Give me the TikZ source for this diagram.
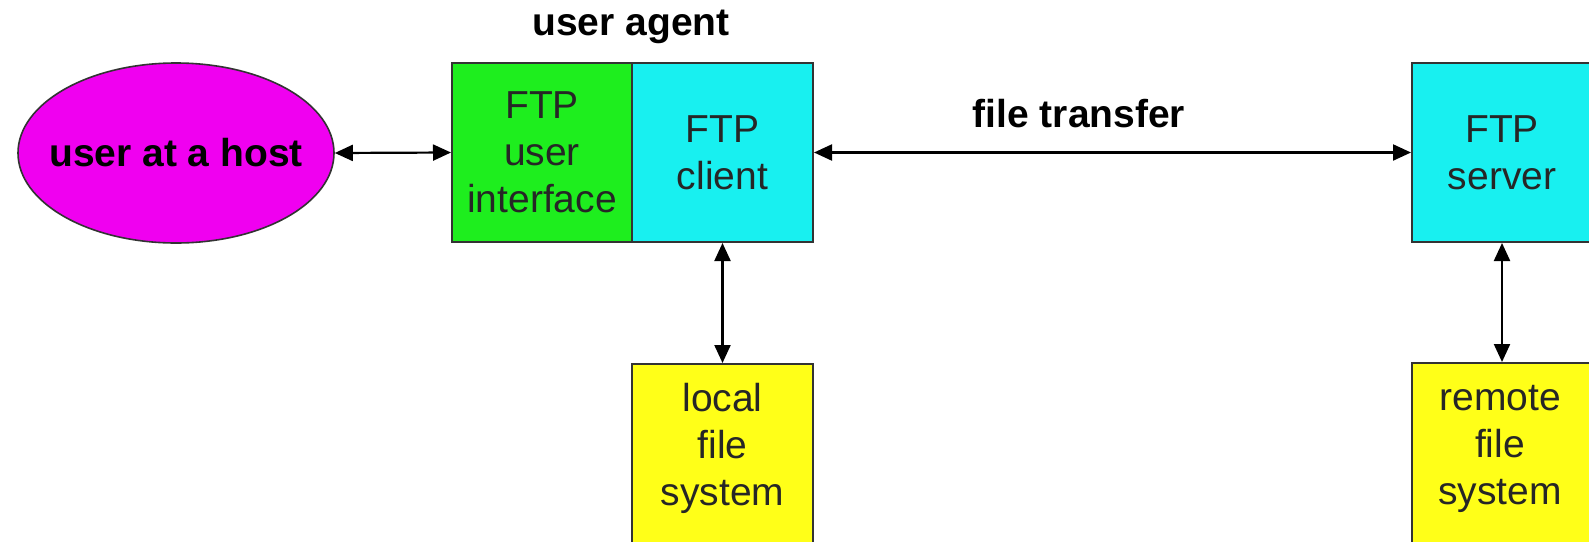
\documentclass[tikz,border=0pt]{standalone}
\usepackage{fontspec}
\setmainfont{Liberation Sans}
\usetikzlibrary{arrows.meta,shapes.geometric}
\definecolor{hostmag}{RGB}{240,0,240}
\definecolor{uigreen}{RGB}{30,238,30}
\definecolor{ftpcyan}{RGB}{24,240,240}
\definecolor{fsyellow}{RGB}{255,255,24}
\begin{document}
\begin{tikzpicture}[x=0.5pt,y=-0.5pt,
  every node/.style={font=\fontsize{19.5}{23.5}\selectfont, text=black!85},
  boldlbl/.style={font=\fontsize{19.5}{23.5}\selectfont\bfseries, text=black},
  box/.style={draw=black!80, line width=1pt, inner sep=0pt, align=center,
              minimum width=90.5pt, minimum height=89.5pt},
  fsbox/.style={box, fill=fsyellow, minimum height=110pt, anchor=north},
  conn/.style={line width=1.1pt, {Triangle[length=9pt,width=8pt]}-{Triangle[length=9pt,width=8pt]}}]
\useasboundingbox (0,0) rectangle (1589,541);
\fill[white] (0,0) rectangle (1589,541);

\node[ellipse, draw=black!80, line width=0.8pt, fill=hostmag, minimum width=158pt,
      minimum height=90pt, inner sep=0pt, boldlbl] (host) at (176,153) {\makebox[0pt]{user at a host}};

\node[box, fill=uigreen, minimum width=90pt] (ui) at (542,152.5) {FTP\\user\\interface};
\node[box, fill=ftpcyan] (client) at (722.5,152.5) {FTP\\client};
\node[box, fill=ftpcyan, minimum width=90pt] (server) at (1502,152.5) {FTP\\server};

\node[fsbox] (local) at (722.5,363) {};
\node[fsbox, minimum width=90pt] (remote) at (1502,362) {};
\node[align=center] (localtxt) at (722.5,448) {local\\file\\system};
\node[align=center] (remotetxt) at (1500,449) {remote\\file\\system};

\node[boldlbl, anchor=base] (ualbl) at (631,35) {user agent};
\node[boldlbl, anchor=base] (ftlbl) at (1079,127) {file transfer};

\draw[conn] (host.east) -- (ui.west);
\draw[conn] (client.east) -- (server.west);
\draw[conn] (client.south) -- (local.north);
\draw[conn] (server.south) -- (remote.north);
\end{tikzpicture}
\end{document}
